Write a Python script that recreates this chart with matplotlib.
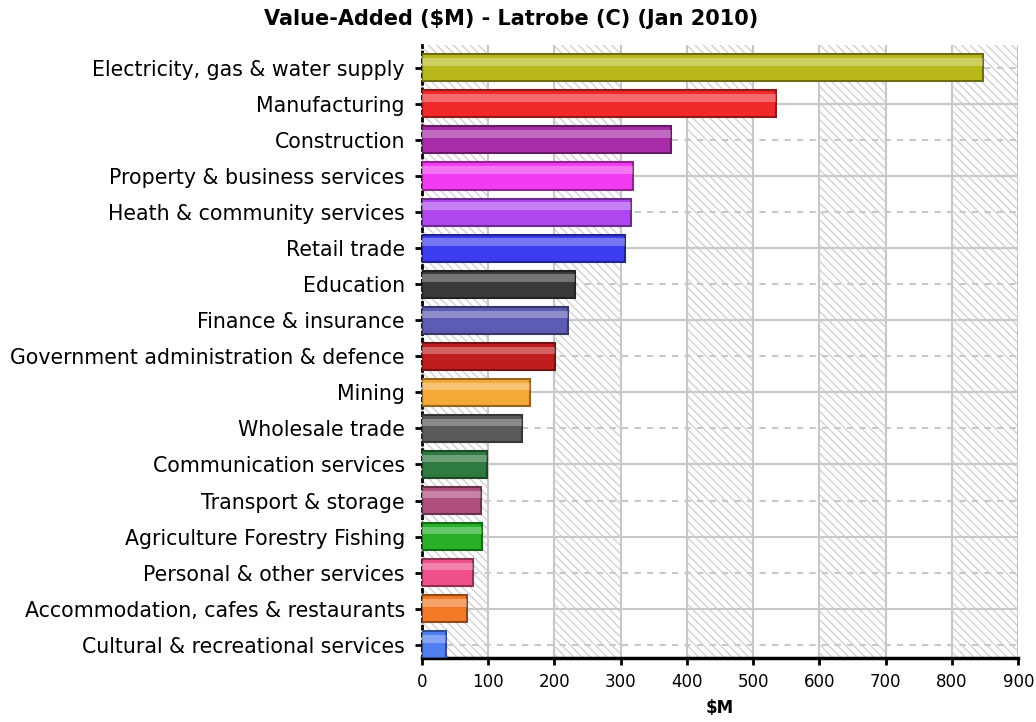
import matplotlib
matplotlib.use("Agg")
import matplotlib.pyplot as plt
import matplotlib.colors as mcolors

industries = [
    "Electricity, gas & water supply",
    "Manufacturing",
    "Construction",
    "Property & business services",
    "Heath & community services",
    "Retail trade",
    "Education",
    "Finance & insurance",
    "Government administration & defence",
    "Mining",
    "Wholesale trade",
    "Communication services",
    "Transport & storage",
    "Agriculture Forestry Fishing",
    "Personal & other services",
    "Accommodation, cafes & restaurants",
    "Cultural & recreational services",
]
value_added = [847, 534, 376, 319, 315, 306, 231, 221, 201, 164, 151,
               98, 90, 91, 78, 68, 37]
bar_colors = ["#b8b81c", "#f02a2a", "#a82ca8", "#f23cf2", "#b048f0",
              "#3c3cf0", "#3a3a3a", "#5c5cb4", "#c01e1e", "#f4a838",
              "#5a5a5a", "#2e7a40", "#b0507e", "#28b028", "#f0508c",
              "#f47a28", "#5080f0"]
x_ticks = [0, 100, 200, 300, 400, 500, 600, 700, 800, 900]

plt.rcParams["font.family"] = ["DejaVu Sans"]
plt.rcParams["hatch.linewidth"] = 1.0

fig = plt.figure(figsize=(10.36, 7.22), dpi=100)
ax = fig.add_axes([0.407, 0.089, 0.576, 0.849])

# hatched background bands
for start in x_ticks[0:-1:2]:
    ax.axvspan(start, start + 100, facecolor="none", edgecolor="#d2d2d2",
               hatch="\\\\\\\\", linewidth=0, zorder=0)

# grid
for xv in x_ticks:
    ax.axvline(xv, color="#c8c8c8", lw=1.5, zorder=1)
pos = list(range(len(industries)))
for i in pos:
    ls = "-" if i % 2 == 1 else (0, (3, 3))
    ax.axhline(i, color="#c8c8c8", lw=1.5, ls=ls, zorder=1)

h = 0.75
for i, (v, c) in enumerate(zip(value_added, bar_colors)):
    dark = tuple(x * 0.6 for x in mcolors.to_rgb(c))
    ax.barh(i, v, height=h, color=c, edgecolor=dark, linewidth=1.5, zorder=3)
    ax.barh(i - h * 0.22, v, height=h * 0.28, color="white", alpha=0.3,
            linewidth=0, zorder=4)

ax.set_xlim(0, 900)
ax.set_ylim(16.36, -0.64)
ax.set_xticks(x_ticks)
ax.set_xticklabels([str(t) for t in x_ticks], fontsize=12)
ax.set_yticks(pos)
ax.set_yticklabels(industries, fontsize=14.8)
ax.tick_params(axis="y", length=5, width=2, color="black", pad=7)
ax.tick_params(axis="x", length=5, width=2, color="black", pad=6)

for s in ["top", "right"]:
    ax.spines[s].set_visible(False)
ax.spines["left"].set_linestyle(":")
ax.spines["left"].set_linewidth(2)
ax.spines["bottom"].set_linewidth(2.5)

ax.set_xlabel("$M", fontsize=12, fontweight="bold", labelpad=6)
ax.set_title("Value-Added ($M) - Latrobe (C) (Jan 2010)", fontsize=15,
             fontweight="bold", pad=14, x=0.15)

fig.savefig("out.png", dpi=100)
